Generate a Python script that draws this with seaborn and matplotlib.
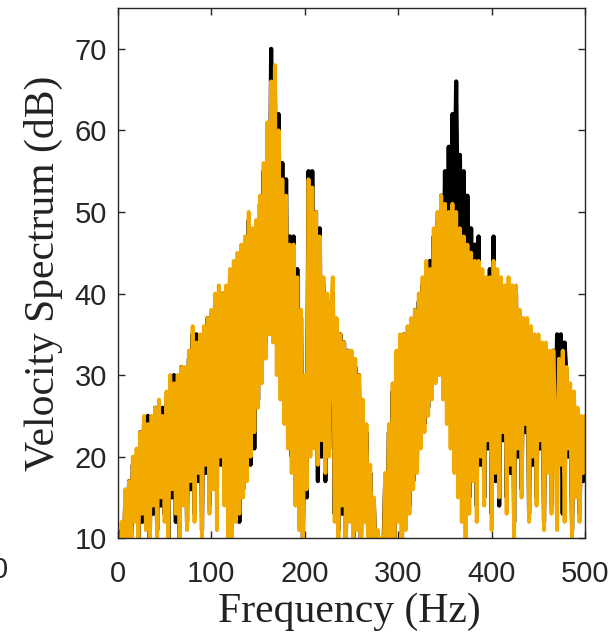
import numpy as np
import matplotlib
matplotlib.use("Agg")
import matplotlib.pyplot as plt
import seaborn as sns

# frequency grid (Hz), 2 Hz bins
freq = np.arange(0, 501, 2)

# black trace (dB)
black_db = [
    6, 8, 11, 7, 15,     10, 17, 9, 19, 13,     20, 10, 23, 12, 24,
    12, 25, 9, 24, 13,   26, 11, 26, 14, 26,    13, 27, 10, 29, 15,
    30, 12, 29, 10, 31,  15, 30, 12, 32, 16,    35, 13, 35, 17, 34,
    11, 35, 18, 37, 14,  37, 17, 39, 20, 40,    19, 40, 21, 40, 12,
    42, 11, 43, 13, 44,  12, 45, 16, 46, 18,    49, 19, 47, 21, 48,
    27, 51, 31, 55, 34,  60, 38, 70, 40, 66,    43, 62, 36, 56, 30,
    54, 24, 47, 20, 47,  15, 43, 12, 37, 10,    29, 15, 55, 21, 55,
    22, 50, 17, 48, 20,  41, 17, 39, 21, 38,    40, 13, 36, 11, 35,
    13, 34, 10, 33, 13,  32, 9, 31, 12, 30,     8, 26, 13, 23, 9,
    18, 11, 14, 7, 10,   7, 9, 8, 17, 10,       23, 11, 28, 8, 32,
    13, 34, 10, 35, 12,  35, 14, 36, 17, 38,    19, 39, 22, 41, 24,
    43, 26, 44, 30, 47,  31, 49, 33, 52, 36,    55, 38, 58, 42, 62,
    50, 66, 46, 57, 34,  55, 13, 52, 15, 48,    18, 46, 14, 47, 19,
    42, 15, 41, 21, 43,  13, 47, 17, 42, 14,    41, 22, 40, 15, 41,
    18, 40, 12, 40, 20,  37, 16, 36, 23, 36,    13, 35, 19, 34, 15,
    34, 21, 33, 12, 33,  19, 32, 14, 33, 22,    35, 20, 35, 13, 34,
    30, 20, 28, 11, 27,  16, 25, 13, 24, 17,    24,
]

# orange trace (dB)
orange_db = [
    7, 5, 12, 8, 16,     9, 17, 10, 20, 12,     21, 9, 23, 13, 25,
    11, 24, 8, 25, 14,   26, 10, 27, 15, 25,    12, 28, 9, 30, 16,
    29, 13, 30, 9, 31,   14, 31, 11, 33, 17,    36, 12, 34, 18, 35,
    10, 36, 19, 37, 13,  38, 16, 40, 11, 41,    20, 40, 14, 41, 10,
    43, 10, 44, 12, 45,  13, 46, 15, 47, 17,    50, 20, 48, 23, 49,
    26, 52, 29, 56, 32,  61, 35, 66, 34, 68,    30, 60, 27, 54, 24,
    52, 21, 46, 18, 46,  14, 42, 11, 38, 9,     30, 16, 54, 20, 53,
    21, 50, 19, 47, 22,  42, 18, 40, 20, 38,    42, 12, 37, 10, 35,
    14, 34, 9, 33, 12,   33, 8, 32, 11, 30,     7, 27, 12, 24, 8,
    19, 10, 15, 6, 11,   8, 10, 6, 18, 9,       24, 10, 29, 7, 33,
    12, 35, 9, 35, 11,   36, 13, 37, 16, 38,    18, 40, 21, 42, 23,
    44, 25, 43, 27, 48,  29, 50, 30, 52, 27,    51, 24, 50, 21, 51,
    18, 50, 15, 48, 12,  47, 10, 46, 13, 45,    17, 44, 12, 44, 20,
    43, 14, 42, 22, 42,  11, 44, 18, 43, 15,    42, 23, 41, 13, 42,
    19, 41, 10, 41, 21,  38, 15, 37, 24, 37,    12, 36, 20, 35, 14,
    35, 22, 34, 11, 34,  18, 33, 13, 33, 24,    11, 32, 19, 33, 12,
    31, 21, 29, 10, 28,  15, 26, 12, 25, 18,    25,
]

sns.set_style("ticks")
plt.rcParams["font.family"] = ["Liberation Sans", "DejaVu Sans"]

fig = plt.figure(figsize=(6.14, 6.40), dpi=100)
ax = fig.add_axes([0.192, 0.159, 0.761, 0.8285])

sns.lineplot(x=freq, y=black_db, color="black", lw=3.0, ax=ax, estimator=None)
sns.lineplot(x=freq, y=orange_db, color="#F2A900", lw=2.8, ax=ax, estimator=None)

ax.set_xlim(0, 500)
ax.set_ylim(10, 75)
ax.set_xticks([0, 100, 200, 300, 400, 500])
ax.set_yticks([10, 20, 30, 40, 50, 60, 70])
ax.tick_params(direction="in", length=5, width=1, top=True, right=True,
               labelsize=21, colors="#262626")
ax.tick_params(axis="x", pad=16)
ax.tick_params(axis="y", pad=8)
for s in ax.spines.values():
    s.set_visible(True)
    s.set_color("#262626")
    s.set_linewidth(1.0)
    s.set_zorder(5)

ax.set_xlabel("Frequency (Hz)", fontsize=30, family=["Liberation Serif"], color="#222222")
ax.set_ylabel("Velocity Spectrum (dB)", fontsize=30, family=["Liberation Serif"], color="#222222")
ax.xaxis.set_label_coords(0.495, -0.102)
ax.yaxis.set_label_coords(-0.118, 0.5)

# cut-off tick label from the neighbouring panel
fig.text(0.0, 0.109, "0", ha="center", va="center", fontsize=21, color="#262626")

fig.savefig("out.png", dpi=100)
